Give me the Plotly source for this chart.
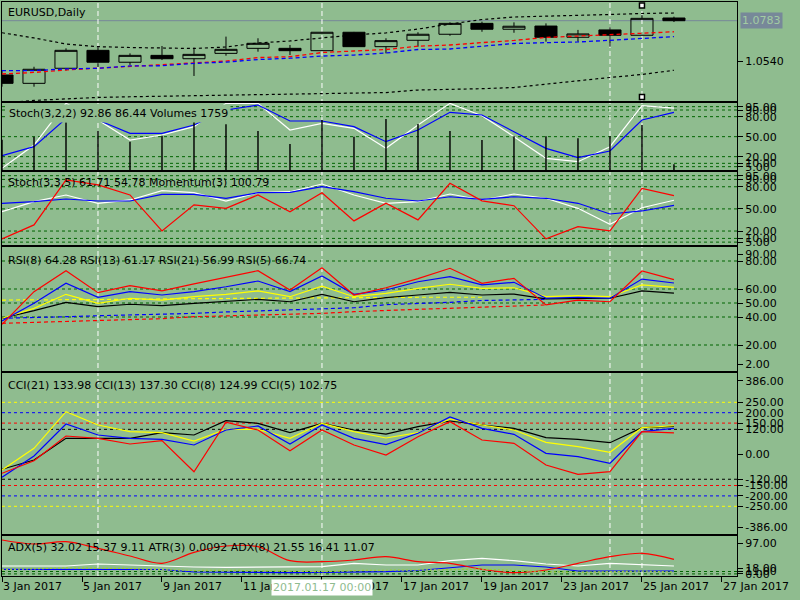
import plotly.graph_objects as go

# =============================================================================
# Data: EURUSD daily, 22 bars (3 Jan .. 1 Feb 2017)
# =============================================================================
bar = list(range(22))

date_ticks = [0, 2.5, 5, 7.5, 10, 12.5, 15, 17.5, 20, 22.5]
date_labels = ["3 Jan 2017", "5 Jan 2017", "9 Jan 2017", "11 Jan 2017", "13 Jan 2017",
               "17 Jan 2017", "19 Jan 2017", "23 Jan 2017", "25 Jan 2017", "27 Jan 2017"]

vlines = [3, 10, 19, 20]          # vertical line objects (bar index)
selected_vline = 10
selected_vline_label = "2017.01.17 00:00"
handle_bar = 20                   # selected line with handles
handle_prices = [1.0874, 1.0328]

opens = [1.0459, 1.0409, 1.0499, 1.0606, 1.0535, 1.0576, 1.0556, 1.0588, 1.0618, 1.0618, 1.0604,
         1.0714, 1.0628, 1.0666, 1.0702, 1.0767, 1.0732, 1.0751, 1.0684, 1.0728, 1.0696, 1.0799]
highs = [1.0489, 1.0508, 1.0618, 1.0628, 1.0588, 1.0632, 1.0624, 1.0688, 1.0678, 1.0638, 1.0716,
         1.0716, 1.0678, 1.0714, 1.0773, 1.0777, 1.0773, 1.0767, 1.0728, 1.0744, 1.0817, 1.0807]
lows = [1.0389, 1.0389, 1.0485, 1.0507, 1.0519, 1.0548, 1.0453, 1.0574, 1.0598, 1.0578, 1.0602,
        1.0626, 1.0588, 1.0628, 1.0693, 1.0717, 1.0711, 1.0658, 1.0658, 1.0628, 1.0694, 1.0775]
closes = [1.0409, 1.0493, 1.0606, 1.0535, 1.0576, 1.0556, 1.0582, 1.0612, 1.0648, 1.0604, 1.0714,
          1.0628, 1.0664, 1.0702, 1.0767, 1.0732, 1.0750, 1.0684, 1.0704, 1.0696, 1.0797, 1.0783]
last_price = 1.0783

band_upper = [1.0711, 1.0680, 1.0644, 1.0628, 1.0623, 1.0620, 1.0617, 1.0626, 1.0650, 1.0662, 1.0680,
              1.0698, 1.0710, 1.0733, 1.0763, 1.0790, 1.0805, 1.0809, 1.0814, 1.0820, 1.0826, 1.0829]
band_lower = [1.0292, 1.0307, 1.0316, 1.0325, 1.0329, 1.0332, 1.0334, 1.0336, 1.0339, 1.0342, 1.0345,
              1.0350, 1.0354, 1.0369, 1.0372, 1.0377, 1.0384, 1.0405, 1.0426, 1.0444, 1.0462, 1.0487]
ma_red = [1.0465, 1.0474, 1.0489, 1.0499, 1.0507, 1.0519, 1.0531, 1.0542, 1.0563, 1.0568, 1.0593,
          1.0602, 1.0611, 1.0631, 1.0638, 1.0652, 1.0665, 1.0683, 1.0690, 1.0698, 1.0708, 1.0717]
ma_blue = [1.0485, 1.0485, 1.0495, 1.0499, 1.0513, 1.0514, 1.0528, 1.0536, 1.0551, 1.0559, 1.0572,
           1.0578, 1.0590, 1.0611, 1.0614, 1.0629, 1.0647, 1.0652, 1.0656, 1.0666, 1.0677, 1.0688]

# Stoch(3,2,2) + Volumes
stoch1_main = [2.5, 37.5, 100, 75, 45, 52.5, 65, 100, 100, 60, 70, 62.5, 32.5, 67.5, 100, 81.5,
               50, 17.5, 12.5, 35, 96.5, 92.86]
stoch1_signal = [21.5, 35, 77, 75, 55, 55, 67.5, 90, 97.5, 73.5, 73.5, 65, 42.5, 60, 86.5, 82.5,
                 57.5, 32.5, 18.5, 28.5, 75, 86.44]
volumes = [9000, 9910, 14160, 11590, 8440, 10200, 17110, 13570, 11590, 7760, 14840, 9910, 15130,
           13660, 11590, 8940, 10030, 10030, 9440, 10030, 13360, 1759]

# Stoch(3,3,5) + Momentum(3)
stoch2_main = [46.2, 59.8, 68.8, 57.6, 62.1, 74.7, 72.0, 60.7, 72.0, 73.3, 83.7, 68.8, 57.6, 59.8,
               70.2, 62.1, 70.2, 64.4, 50.8, 29.1, 51.6, 61.71]
stoch2_signal = [57.6, 59.8, 63.4, 60.7, 60.7, 69.8, 69.8, 64.4, 72.0, 72.5, 80.1, 73.3, 64.4, 60.7,
                 66.5, 63.0, 66.5, 64.4, 57.6, 43.1, 47.2, 54.78]
momentum = [98.63, 99.33, 101.58, 101.33, 100.83, 99.03, 100.33, 100.16, 100.83, 99.99, 100.94,
            99.53, 100.41, 99.58, 101.41, 100.53, 100.29, 98.63, 99.24, 99.03, 101.16, 100.79]

# RSI
rsi5 = [34.8, 58.1, 73.1, 57.4, 62.4, 58.6, 63.6, 68.4, 73.1, 59.3, 75.2, 55.7, 60.9, 67.4, 74.8,
        64.1, 67.6, 48.6, 52.1, 50.9, 72.9, 66.74]
rsi8 = [37.1, 49.8, 64.1, 54.1, 58.1, 55.7, 58.1, 61.6, 65.7, 58.1, 69.3, 56.2, 59.3, 65.2, 68.8,
        62.9, 64.8, 53.4, 54.1, 53.4, 67.1, 64.28]
rsi13 = [39.1, 46.2, 56.2, 49.8, 53.4, 52.1, 54.5, 56.2, 58.6, 54.5, 62.1, 54.5, 56.9, 60.5, 63.4,
         60.5, 60.9, 54.5, 55.2, 54.5, 62.9, 61.17]
rsi21 = [39.1, 44.5, 50.5, 47.4, 49.1, 48.1, 49.8, 51.4, 52.6, 50.9, 56.2, 50.9, 53.8, 55.7, 57.6,
         55.7, 56.4, 52.9, 53.4, 53.4, 58.6, 56.99]
rsi_ma_blue = [39.1, 39.5, 40.2, 40.9, 41.4, 41.9, 42.6, 43.6, 44.3, 45.0, 45.5, 46.6, 48.8, 49.5,
               50.5, 51.8, 52.4, 52.6]
rsi_ma_red = [35.5, 36.1, 36.8, 37.6, 38.2, 38.8, 40.2, 40.7, 41.4, 42.1, 42.6, 43.8, 44.8, 45.5,
              46.2, 46.9, 47.9, 48.6]
rsi_ma_yellow = [52.1, 52.1, 52.4, 52.5, 52.6, 52.9, 53.1, 53.4, 53.6, 53.6, 53.8, 53.9, 54.1, 54.1,
                 54.1, 54.1]

# CCI
cci21 = [-72.1, -27.4, 76.9, 76.9, 76.9, 103.9, 92.8, 161.5, 149.0, 103.9, 149.0, 116.8, 96.6,
         132.7, 160.1, 140.9, 125.0, 79.8, 72.1, 55.8, 127.9, 133.98]
cci13 = [-75.5, 28.8, 204.8, 140.9, 108.7, 103.9, 63.9, 120.2, 120.2, 76.9, 149.0, 108.7, 78.4,
         103.9, 169.7, 140.9, 116.8, 57.7, 36.5, 9.6, 127.9, 137.30]
cci8 = [-110.6, -8.2, 145.7, 92.8, 76.9, 72.1, 44.7, 116.8, 136.1, 49.5, 140.9, 76.9, 46.2, 101.0,
        179.3, 125.0, 96.2, 4.8, -11.5, -43.3, 108.7, 124.99]
cci5 = [-91.4, -30.8, 88.0, 76.9, 49.5, 65.4, -83.7, 153.9, 116.8, 17.3, 116.8, 44.7, -3.4, 84.6,
        156.7, 68.8, 52.9, -51.4, -96.2, -83.7, 108.7, 102.75]
cci_levels = [250, 200, 150, 120]
cci_level_colors = ["#FFFF00", "#0000FF", "#FF0000", "#000000"]

# ADX(5) + ATR(3)
adx_main = [88.8, 78.8, 84.5, 68.0, 48.8, 30.5, 58.0, 73.8, 72.0, 37.0, 34.5, 38.8, 47.0, 34.5,
            30.5, 15.5, 7.0, 13.8, 30.5, 47.0, 55.5, 40.5]
adx_plus = [23.8, 23.8, 23.8, 28.8, 26.3, 22.0, 21.3, 20.5, 21.3, 22.0, 22.0, 30.5, 26.3, 26.3,
            37.0, 43.0, 37.0, 28.8, 23.8, 30.5, 27.0, 23.8]
adx_minus = [15.5, 15.5, 15.5, 13.8, 13.8, 15.0, 8.8, 8.0, 8.0, 7.0, 7.5, 8.0, 9.5, 12.5, 18.8,
             26.3, 26.3, 21.3, 11.3, 11.3, 11.3, 11.3]
atr3 = [0.0100, 0.0102, 0.0106, 0.0105, 0.0104, 0.0100, 0.0097, 0.0098, 0.0097, 0.0095, 0.0093,
        0.0097, 0.0098, 0.0097, 0.0100, 0.0102, 0.0097, 0.0093, 0.0091, 0.0093, 0.0095, 0.0092]

stoch_levels = [95, 90, 80, 50, 20, 10, 5]
rsi_levels = [80, 60, 50, 40, 20]
adx_levels = [10, 4]

# indicator captions
title_text = "EURUSD,Daily"
stoch1_text = "Stoch(3,2,2) 92.86 86.44 Volumes 1759"
stoch2_text = "Stoch(3,3,5) 61.71 54.78 Momentum(3) 100.79"
rsi_text = "RSI(8) 64.28 RSI(13) 61.17 RSI(21) 56.99 RSI(5) 66.74"
cci_text = "CCI(21) 133.98 CCI(13) 137.30 CCI(8) 124.99 CCI(5) 102.75"
adx_text = "ADX(5) 32.02 15.37 9.11 ATR(3) 0.0092 ADX(8) 21.55 16.41 11.07"

# =============================================================================
# Layout helpers (pixel positions of the MT4 style panels)
# =============================================================================
W, H = 800, 600
BG = "#8FBC8F"
GRID = "#006400"
FONT = dict(family="DejaVu Sans", size=11, color="black")
X_DOMAIN = [2 / W, 737 / W]
X_RANGE = [0, 22.97]


def ydom(top, bottom):
    return [1 - bottom / H, 1 - top / H]


def ypx(px):
    return 1 - px / H


def yaxis(top, bottom, rng, anchor, tickvals=(), ticktext=()):
    return dict(domain=ydom(top, bottom), range=rng, anchor=anchor, side="right",
                showline=True, mirror=True, linecolor="black", linewidth=1,
                showgrid=False, zeroline=False, ticks="outside", ticklen=5,
                tickcolor="black", tickvals=list(tickvals), ticktext=list(ticktext),
                tickfont=FONT, fixedrange=True, automargin=False)


def xaxis(anchor):
    return dict(domain=X_DOMAIN, range=X_RANGE, anchor=anchor, showline=True, mirror=True,
                linecolor="black", linewidth=1, showgrid=False, zeroline=False,
                showticklabels=False, ticks="", fixedrange=True, automargin=False,
                rangeslider=dict(visible=False))


def line(x, y, color, xa, ya, dash="solid", width=1.2, shape="linear"):
    return go.Scatter(x=x, y=y, mode="lines", xaxis=xa, yaxis=ya, hoverinfo="skip",
                      line=dict(color=color, width=width, dash=dash, shape=shape))


fig = go.Figure()

# ---- main chart -------------------------------------------------------------
fig.add_trace(line(bar, band_upper, "black", "x", "y", dash="3px,3px"))
fig.add_trace(line(bar, band_lower, "black", "x", "y", dash="3px,3px"))
fig.add_trace(line(bar, ma_red, "#FF0000", "x", "y", dash="4px,3px", width=1.3))
fig.add_trace(line(bar, ma_blue, "#0000FF", "x", "y", dash="4px,3px", width=1.3))
fig.add_trace(go.Candlestick(
    x=bar, open=opens, high=highs, low=lows, close=closes, xaxis="x", yaxis="y",
    increasing=dict(line=dict(color="black", width=1), fillcolor="rgba(0,0,0,0)"),
    decreasing=dict(line=dict(color="black", width=1), fillcolor="black"),
    whiskerwidth=0, hoverinfo="skip"))
fig.add_trace(go.Scatter(
    x=[handle_bar] * len(handle_prices), y=handle_prices, mode="markers", xaxis="x", yaxis="y",
    cliponaxis=False, hoverinfo="skip",
    marker=dict(symbol="square", size=5, color="white", line=dict(color="black", width=1.5))))

# ---- Stoch(3,2,2) + volumes ----------------------------------------------------
fig.add_trace(line(bar, stoch1_main, "#FFFFFF", "x2", "y2"))
fig.add_trace(line(bar, stoch1_signal, "#0000FF", "x2", "y2"))
fig.add_trace(go.Bar(x=bar, y=volumes, width=0.045, xaxis="x2", yaxis="y7",
                     marker=dict(color="black", line=dict(width=0)), hoverinfo="skip"))

# ---- Stoch(3,3,5) + momentum --------------------------------------------------
fig.add_trace(line(bar, stoch2_main, "#FFFFFF", "x3", "y3"))
fig.add_trace(line(bar, stoch2_signal, "#0000FF", "x3", "y3"))
fig.add_trace(line(bar, momentum, "#FF0000", "x3", "y8"))

# ---- RSI ----------------------------------------------------------------------
fig.add_trace(line(bar[:len(rsi_ma_red)], rsi_ma_red, "#FF0000", "x4", "y4", dash="4px,3px"))
fig.add_trace(line(bar[:len(rsi_ma_blue)], rsi_ma_blue, "#0000FF", "x4", "y4", dash="4px,3px"))
fig.add_trace(line(bar[:len(rsi_ma_yellow)], rsi_ma_yellow, "#FFFF00", "x4", "y4", dash="4px,3px"))
fig.add_trace(line(bar, rsi21, "#000000", "x4", "y4"))
fig.add_trace(line(bar, rsi13, "#FFFF00", "x4", "y4"))
fig.add_trace(line(bar, rsi8, "#0000FF", "x4", "y4"))
fig.add_trace(line(bar, rsi5, "#FF0000", "x4", "y4"))

# ---- CCI ----------------------------------------------------------------------
fig.add_trace(line(bar, cci21, "#000000", "x5", "y5"))
fig.add_trace(line(bar, cci13, "#FFFF00", "x5", "y5"))
fig.add_trace(line(bar, cci8, "#0000FF", "x5", "y5"))
fig.add_trace(line(bar, cci5, "#FF0000", "x5", "y5"))

# ---- ADX + ATR ----------------------------------------------------------------
fig.add_trace(line(bar, atr3, "#9ACD32", "x6", "y9", dash="2px,2px"))
fig.add_trace(line(bar, adx_minus, "#0000FF", "x6", "y6"))
fig.add_trace(line(bar, adx_plus, "#FFFFFF", "x6", "y6"))
fig.add_trace(line(bar, adx_main, "#FF0000", "x6", "y6", shape="spline"))

# =============================================================================
# Shapes: grid levels, price line, vertical line objects
# =============================================================================
shapes = []


def hlevel(axis, value, color=GRID, dash="3px,3px"):
    shapes.append(dict(type="line", xref=f"x{axis[1:]} domain" if axis != "y" else "x domain",
                       x0=0, x1=1, yref=axis, y0=value, y1=value, layer="below",
                       line=dict(color=color, width=1, dash=dash)))


for lv in stoch_levels:
    hlevel("y2", lv)
    hlevel("y3", lv)
for lv in rsi_levels:
    hlevel("y4", lv)
for lv, col in zip(cci_levels, cci_level_colors):
    hlevel("y5", lv, col)
    hlevel("y5", -lv, col)
for lv in adx_levels:
    hlevel("y6", lv)

hlevel("y", last_price, "#778899", "solid")

for vb in vlines:
    shapes.append(dict(type="line", xref="x", x0=vb, x1=vb, yref="paper",
                       y0=ypx(576), y1=ypx(2), layer="below",
                       line=dict(color="white", width=1, dash="5px,3px")))

# =============================================================================
# Annotations: captions, price box, vertical line date
# =============================================================================
def caption(text, center_px, mask=False):
    a = dict(text=text, xref="paper", x=6 / W, xanchor="left", yref="paper",
             y=ypx(center_px), yanchor="middle", showarrow=False, font=FONT)
    if mask:
        a.update(bgcolor=BG, borderpad=2)
    return a


annotations = [
    caption(title_text, 12),
    caption(stoch1_text, 113, mask=True),
    caption(stoch2_text, 183),
    caption(rsi_text, 260),
    caption(cci_text, 385),
    caption(adx_text, 547),
    dict(text=f"{last_price:.4f}", xref="paper", x=740 / W, xanchor="left", yref="y",
         y=last_price, yanchor="middle", showarrow=False, bgcolor="#778899", borderpad=1,
         font=dict(family="DejaVu Sans", size=11, color="#A3CCA3")),
    dict(text=selected_vline_label, xref="x6", x=selected_vline, xanchor="center",
         yref="paper", y=ypx(587.5), yanchor="middle", showarrow=False, bgcolor="white",
         borderpad=1, font=dict(family="DejaVu Sans", size=11, color=BG)),
]

# =============================================================================
# Axes
# =============================================================================
x6 = xaxis("y6")
x6.update(showticklabels=True, ticks="outside", ticklen=5, tickcolor="black",
          tickvals=date_ticks, ticktext=date_labels, tickfont=FONT,
          ticklabelposition="outside right")

layout_axes = dict(
    xaxis=xaxis("y"),
    xaxis2={**xaxis("y2"), "matches": "x"},
    xaxis3={**xaxis("y3"), "matches": "x"},
    xaxis4={**xaxis("y4"), "matches": "x"},
    xaxis5={**xaxis("y5"), "matches": "x"},
    xaxis6={**x6, "matches": "x"},
    yaxis=yaxis(2, 101, [1.03036, 1.08946], "x", [1.0540], ["1.0540"]),
    yaxis2=yaxis(102.5, 170.3, [-0.45, 101.25], "x2", stoch_levels,
                 [f"{v:.2f}" for v in stoch_levels]),
    yaxis3=yaxis(172.3, 245.3, [0.68, 99.6], "x3", stoch_levels,
                 [f"{v:.2f}" for v in stoch_levels]),
    yaxis4=yaxis(247.3, 371, [1.43, 89.79], "x4",
                 [84.8, 80, 60, 50, 40, 20, 6.4],
                 ["90.00", "80.00", "60.00", "50.00", "40.00", "20.00", "2.00"]),
    yaxis5=yaxis(372.7, 534, [-383.2, 392.3], "x5",
                 [353.9, 250, 200, 150, 120, 0, -120, -150, -200, -250, -351],
                 ["386.00", "250.00", "200.00", "150.00", "120.00", "0.00", "-120.00",
                  "-150.00", "-200.00", "-250.00", "-386.00"]),
    yaxis6=yaxis(535.7, 576, [-1.25, 99.5], "x6", [80.5, 18, 11, 4],
                 ["97.00", "18.00", "11.00", "0.00"]),
    yaxis7=dict(overlaying="y2", anchor="x2", range=[0, 20000], visible=False, fixedrange=True),
    yaxis8=dict(overlaying="y3", anchor="x3", range=[98.31, 101.96], visible=False,
                fixedrange=True),
    yaxis9=dict(overlaying="y6", anchor="x6", range=[0.0078, 0.0218], visible=False,
                fixedrange=True),
)

fig.update_layout(
    template="none",
    width=W, height=H,
    margin=dict(l=0, r=0, t=0, b=0),
    paper_bgcolor=BG,
    plot_bgcolor="rgba(0,0,0,0)",
    font=FONT,
    showlegend=False,
    hovermode=False,
    boxgap=0.31,
    boxgroupgap=0,
    shapes=shapes,
    annotations=annotations,
    **layout_axes,
)

# the page body has a default 8px margin; drop it so the chart sits at (0, 0)
fig.write_html("out.html", config={"displayModeBar": False, "staticPlot": True},
               post_script="document.body.style.margin='0px';")
